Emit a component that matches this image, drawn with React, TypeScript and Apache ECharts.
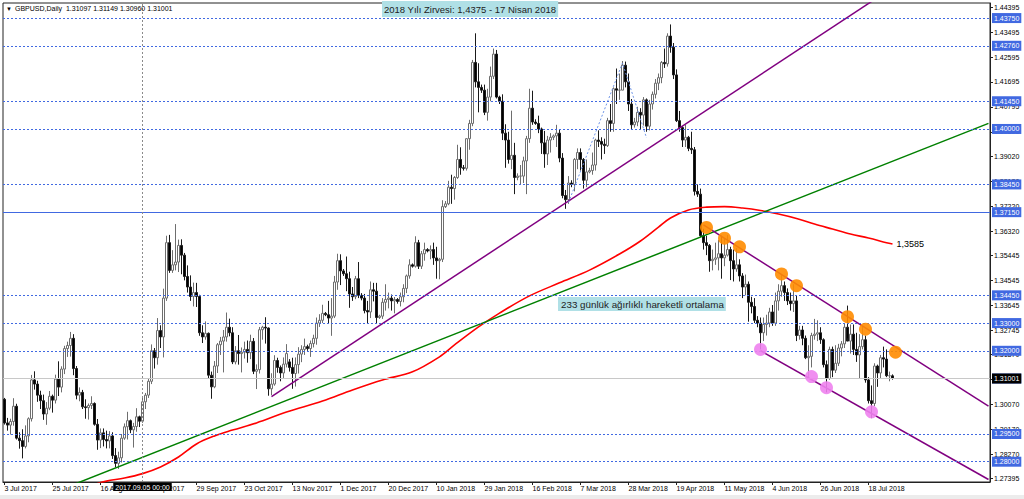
import React, { useEffect, useRef } from 'react';
import * as echarts from 'echarts';

// ---- Daily GBPUSD candles, index 0 = 3 Jul 2017 ----
const OPEN = [
  1.3025,1.2940,1.2932,1.2945,1.3000,1.2885,1.2876,1.2855,1.2893,1.2955,
  1.3095,1.3080,1.3040,1.3020,1.2972,1.2993,1.3036,1.3022,1.3098,1.3069,
  1.3134,1.3208,1.3219,1.3245,1.3136,1.3040,1.3050,1.2998,1.2995,1.3003,
  1.3010,1.2935,1.2878,1.2904,1.2880,1.2875,1.2893,1.2822,1.2794,1.2814,
  1.2885,1.2926,1.2948,1.2915,1.2927,1.2962,1.2946,1.3016,1.3040,1.3090,
  1.3200,1.3175,1.3273,1.3250,1.3390,1.3590,1.3490,1.3510,1.3520,1.3580,
  1.3545,1.3468,1.3430,1.3396,1.3410,1.3396,1.3265,1.3250,1.3263,1.3112,
  1.3070,1.3145,1.3222,1.3235,1.3250,1.3285,1.3265,1.3160,1.3200,1.3190,
  1.3195,1.3205,1.3193,1.3234,1.3126,1.3132,1.3276,1.3285,1.3282,1.3063,
  1.3080,1.3165,1.3140,1.3120,1.3152,1.3160,1.3140,1.3118,1.3150,1.3188,
  1.3205,1.3215,1.3208,1.3226,1.3245,1.3300,1.3310,1.3335,1.3330,1.3318,
  1.3325,1.3448,1.3525,1.3488,1.3478,1.3460,1.3405,1.3395,1.3460,1.3400,
  1.3390,1.3345,1.3340,1.3420,1.3415,1.3320,1.3325,1.3375,1.3385,1.3390,
  1.3380,1.3385,1.3378,1.3395,1.3425,1.3470,1.3510,1.3505,1.3590,1.3505,
  1.3550,1.3565,1.3560,1.3565,1.3535,1.3525,1.3530,1.3720,1.3730,1.3790,
  1.3785,1.3825,1.3890,1.3860,1.3858,1.3965,1.4020,1.4240,1.4170,1.4150,
  1.4140,1.4060,1.4115,1.4190,1.4270,1.4115,1.4100,1.3985,1.3960,1.3890,
  1.3905,1.3825,1.3830,1.3830,1.3885,1.3965,1.4075,1.4025,1.4020,1.4000,
  1.3950,1.3910,1.3960,1.3970,1.3975,1.3985,1.3895,1.3760,1.3745,1.3805,
  1.3800,1.3890,1.3915,1.3890,1.3815,1.3845,1.3850,1.3870,1.3960,1.3955,
  1.3945,1.3940,1.4030,1.4020,1.4145,1.4140,1.4140,1.4230,1.4170,1.4090,
  1.4015,1.4025,1.4060,1.4050,1.4105,1.4010,1.4090,1.4125,1.4165,1.4185,
  1.4240,1.4235,1.4335,1.4295,1.4195,1.4030,1.4005,1.3960,1.3970,1.3930,
  1.3925,1.3775,1.3765,1.3615,1.3590,1.3580,1.3525,1.3530,1.3535,1.3550,
  1.3535,1.3545,1.3565,1.3525,1.3495,1.3510,1.3470,1.3430,1.3440,1.3375,
  1.3360,1.3310,1.3300,1.3265,1.3295,1.3300,1.3340,1.3300,1.3380,1.3415,
  1.3435,1.3410,1.3380,1.3370,1.3380,1.3255,1.3275,1.3245,1.3175,1.3180,
  1.3255,1.3260,1.3265,1.3240,1.3150,1.3100,1.3205,1.3130,1.3155,1.3210,
  1.3225,1.3285,1.3235,1.3260,1.3205,1.3185,1.3215,1.3240,1.3095,1.3020,
  1.3010,1.3145,1.3120,1.3175,1.3170,1.3110,1.31097,
];
const HIGH = [
  1.3030,1.2958,1.2955,1.3029,1.3009,1.2906,1.2917,1.2931,1.2960,1.3113,
  1.3126,1.3092,1.3056,1.3042,1.3015,1.3055,1.3042,1.3114,1.3162,1.3144,
  1.3218,1.3233,1.3268,1.3260,1.3145,1.3068,1.3059,1.3025,1.3010,1.3036,
  1.3014,1.2954,1.2920,1.2920,1.2912,1.2910,1.2906,1.2849,1.2836,1.2900,
  1.2938,1.2980,1.2952,1.2940,1.2993,1.2966,1.3031,1.3048,1.3100,1.3223,
  1.3210,1.3318,1.3292,1.3424,1.3615,1.3618,1.3563,1.3657,1.3601,1.3602,
  1.3553,1.3508,1.3472,1.3446,1.3445,1.3402,1.3292,1.3306,1.3266,1.3125,
  1.3163,1.3228,1.3250,1.3275,1.3338,1.3316,1.3285,1.3217,1.3257,1.3212,
  1.3233,1.3237,1.3258,1.3246,1.3151,1.3286,1.3290,1.3321,1.3284,1.3119,
  1.3184,1.3175,1.3147,1.3176,1.3224,1.3170,1.3175,1.3176,1.3213,1.3220,
  1.3244,1.3222,1.3237,1.3258,1.3320,1.3332,1.3366,1.3340,1.3380,1.3390,
  1.3470,1.3550,1.3548,1.3495,1.3540,1.3485,1.3430,1.3470,1.3520,1.3408,
  1.3405,1.3380,1.3450,1.3445,1.3445,1.3330,1.3390,1.3440,1.3410,1.3403,
  1.3394,1.3390,1.3410,1.3440,1.3475,1.3530,1.3515,1.3613,1.3600,1.3560,
  1.3590,1.3570,1.3580,1.3590,1.3575,1.3535,1.3743,1.3740,1.3813,1.3835,
  1.3830,1.3943,1.3934,1.3870,1.3966,1.4033,1.4249,1.4345,1.4237,1.4160,
  1.4160,1.4145,1.4225,1.4290,1.4285,1.4120,1.4125,1.4017,1.3990,1.4066,
  1.3950,1.3840,1.3870,1.3900,1.3975,1.4145,1.4138,1.4035,1.4048,1.4005,
  1.3993,1.3975,1.3985,1.3980,1.4015,1.3997,1.3913,1.3780,1.3830,1.3815,
  1.3895,1.3930,1.3930,1.3895,1.3890,1.3860,1.3915,1.3965,1.3995,1.3970,
  1.3965,1.4040,1.4090,1.4150,1.4218,1.4200,1.4245,1.4243,1.4200,1.4108,
  1.4040,1.4080,1.4075,1.4115,1.4110,1.4105,1.4135,1.4180,1.4200,1.4245,
  1.4290,1.4345,1.4377,1.4310,1.4215,1.4065,1.4010,1.4015,1.3975,1.3990,
  1.3935,1.3800,1.3785,1.3640,1.3615,1.3585,1.3565,1.3590,1.3600,1.3615,
  1.3605,1.3617,1.3575,1.3565,1.3570,1.3530,1.3480,1.3475,1.3450,1.3395,
  1.3390,1.3325,1.3320,1.3320,1.3330,1.3355,1.3365,1.3410,1.3440,1.3473,
  1.3450,1.3425,1.3410,1.3440,1.3400,1.3290,1.3290,1.3255,1.3220,1.3265,
  1.3315,1.3310,1.3285,1.3245,1.3165,1.3215,1.3215,1.3220,1.3225,1.3235,
  1.3300,1.3363,1.3295,1.3295,1.3265,1.3260,1.3290,1.3255,1.3105,1.3075,
  1.3155,1.3150,1.3185,1.3215,1.3205,1.3125,1.31149,
];
const LOW = [
  1.2934,1.2912,1.2898,1.2930,1.2880,1.2847,1.2812,1.2848,1.2870,1.2945,
  1.3060,1.3016,1.2990,1.2951,1.2933,1.2986,1.2977,1.3010,1.3037,1.3050,
  1.3116,1.3178,1.3179,1.3112,1.3025,1.3018,1.2990,1.2955,1.2952,1.2990,
  1.2930,1.2843,1.2849,1.2855,1.2848,1.2848,1.2810,1.2780,1.2774,1.2797,
  1.2879,1.2880,1.2903,1.2851,1.2908,1.2925,1.2940,1.2990,1.3030,1.3080,
  1.3136,1.3150,1.3210,1.3176,1.3380,1.3481,1.3481,1.3490,1.3484,1.3476,
  1.3454,1.3410,1.3380,1.3360,1.3358,1.3254,1.3228,1.3240,1.3100,1.3027,
  1.3065,1.3120,1.3185,1.3122,1.3233,1.3252,1.3152,1.3151,1.3150,1.3122,
  1.3172,1.3157,1.3170,1.3116,1.3062,1.3118,1.3240,1.3226,1.3038,1.3040,
  1.3074,1.3121,1.3090,1.3102,1.3140,1.3125,1.3063,1.3071,1.3118,1.3159,
  1.3185,1.3200,1.3178,1.3212,1.3222,1.3286,1.3300,1.3325,1.3300,1.3254,
  1.3318,1.3420,1.3437,1.3470,1.3415,1.3355,1.3380,1.3386,1.3390,1.3382,
  1.3335,1.3300,1.3318,1.3378,1.3300,1.3315,1.3315,1.3345,1.3353,1.3345,
  1.3335,1.3370,1.3360,1.3375,1.3408,1.3460,1.3500,1.3500,1.3495,1.3495,
  1.3525,1.3555,1.3530,1.3510,1.3460,1.3458,1.3520,1.3715,1.3725,1.3730,
  1.3745,1.3820,1.3835,1.3850,1.3850,1.3925,1.4010,1.4150,1.4060,1.4130,
  1.4050,1.4030,1.4100,1.4180,1.4110,1.4090,1.3960,1.3860,1.3875,1.3855,
  1.3765,1.3815,1.3800,1.3805,1.3765,1.3950,1.4015,1.4015,1.3985,1.3910,
  1.3860,1.3870,1.3915,1.3960,1.3935,1.3880,1.3750,1.3712,1.3730,1.3790,
  1.3775,1.3855,1.3850,1.3785,1.3790,1.3840,1.3835,1.3850,1.3935,1.3890,
  1.3910,1.3935,1.3990,1.3990,1.4090,1.4105,1.4140,1.4150,1.4065,1.4000,
  1.4005,1.4010,1.4000,1.4012,1.3990,1.3995,1.4070,1.4110,1.4140,1.4165,
  1.4220,1.4225,1.4275,1.4180,1.4025,1.3990,1.3935,1.3935,1.3920,1.3910,
  1.3760,1.3755,1.3610,1.3565,1.3545,1.3485,1.3490,1.3510,1.3490,1.3460,
  1.3505,1.3540,1.3455,1.3450,1.3485,1.3450,1.3390,1.3400,1.3305,1.3335,
  1.3300,1.3285,1.3205,1.3235,1.3255,1.3285,1.3290,1.3290,1.3345,1.3395,
  1.3380,1.3365,1.3345,1.3340,1.3235,1.3240,1.3220,1.3170,1.3100,1.3140,
  1.3240,1.3235,1.3225,1.3140,1.3050,1.3095,1.3105,1.3120,1.3145,1.3180,
  1.3210,1.3245,1.3190,1.3185,1.3160,1.3100,1.3205,1.3085,1.3010,1.2957,
  1.3000,1.3070,1.3100,1.3140,1.3105,1.3090,1.30960,
];
const CLOSE = [
  1.2940,1.2932,1.2945,1.3000,1.2885,1.2876,1.2855,1.2893,1.2955,1.3095,
  1.3080,1.3040,1.3020,1.2972,1.2993,1.3036,1.3022,1.3098,1.3069,1.3134,
  1.3208,1.3219,1.3245,1.3136,1.3040,1.3050,1.2998,1.2995,1.3003,1.3010,
  1.2935,1.2878,1.2904,1.2880,1.2875,1.2893,1.2822,1.2794,1.2814,1.2885,
  1.2926,1.2948,1.2915,1.2927,1.2962,1.2946,1.3016,1.3040,1.3090,1.3200,
  1.3175,1.3273,1.3250,1.3390,1.3590,1.3490,1.3510,1.3520,1.3580,1.3545,
  1.3468,1.3430,1.3396,1.3410,1.3396,1.3265,1.3250,1.3263,1.3112,1.3070,
  1.3145,1.3222,1.3235,1.3250,1.3285,1.3265,1.3160,1.3200,1.3190,1.3195,
  1.3205,1.3193,1.3234,1.3126,1.3132,1.3276,1.3285,1.3282,1.3063,1.3080,
  1.3165,1.3140,1.3120,1.3152,1.3190,1.3140,1.3118,1.3150,1.3188,1.3205,
  1.3215,1.3208,1.3226,1.3245,1.3300,1.3310,1.3335,1.3330,1.3318,1.3325,
  1.3448,1.3525,1.3488,1.3478,1.3460,1.3405,1.3395,1.3460,1.3400,1.3390,
  1.3345,1.3340,1.3420,1.3415,1.3320,1.3325,1.3375,1.3385,1.3390,1.3380,
  1.3385,1.3378,1.3395,1.3425,1.3470,1.3510,1.3505,1.3590,1.3505,1.3550,
  1.3565,1.3560,1.3565,1.3535,1.3525,1.3530,1.3720,1.3730,1.3790,1.3785,
  1.3825,1.3890,1.3860,1.3858,1.3965,1.4020,1.4240,1.4170,1.4150,1.4140,
  1.4060,1.4115,1.4190,1.4270,1.4115,1.4100,1.3985,1.3960,1.3890,1.3905,
  1.3825,1.3830,1.3830,1.3885,1.3965,1.4075,1.4025,1.4020,1.4000,1.3950,
  1.3910,1.3960,1.3970,1.3975,1.3985,1.3895,1.3760,1.3745,1.3805,1.3800,
  1.3890,1.3915,1.3890,1.3815,1.3845,1.3850,1.3870,1.3960,1.3955,1.3945,
  1.3940,1.4030,1.4020,1.4145,1.4140,1.4140,1.4230,1.4170,1.4090,1.4015,
  1.4025,1.4060,1.4050,1.4105,1.4010,1.4090,1.4125,1.4165,1.4185,1.4240,
  1.4235,1.4335,1.4295,1.4195,1.4030,1.4005,1.3960,1.3970,1.3930,1.3925,
  1.3775,1.3765,1.3615,1.3590,1.3580,1.3525,1.3530,1.3535,1.3550,1.3535,
  1.3545,1.3565,1.3525,1.3495,1.3510,1.3470,1.3430,1.3440,1.3375,1.3360,
  1.3310,1.3300,1.3265,1.3295,1.3300,1.3340,1.3300,1.3380,1.3415,1.3435,
  1.3410,1.3380,1.3370,1.3380,1.3255,1.3275,1.3245,1.3175,1.3180,1.3255,
  1.3260,1.3265,1.3240,1.3150,1.3100,1.3205,1.3130,1.3155,1.3210,1.3225,
  1.3285,1.3235,1.3260,1.3205,1.3185,1.3215,1.3240,1.3095,1.3020,1.3010,
  1.3145,1.3120,1.3175,1.3170,1.3110,1.3110,1.31001,
];

// 233-day weighted moving average: [bar index, price]
const WMA233: [number, number][] = [
  [30,1.2718],[34,1.2730],[40,1.2741],[46,1.2757],[52,1.2781],[58,1.2817],[64,1.2864],
  [70,1.2893],[76,1.2914],[84,1.2940],[94,1.2979],[106,1.3019],[116,1.3059],[126,1.3095],
  [136,1.3124],[145,1.3178],[150,1.3221],[158,1.3286],[165,1.3336],[175,1.3398],[185,1.3445],
  [195,1.3491],[205,1.3549],[212,1.3596],[218,1.3646],[222,1.3679],[228,1.3708],[234,1.3718],
  [240,1.3720],[246,1.3715],[252,1.3706],[258,1.3693],[264,1.3677],[270,1.3657],[276,1.3639],
  [282,1.3621],[288,1.3607],[294,1.3590],[296,1.3585],
];
const WMA_LABEL = '1,3585';

// Drawn trend lines: [bar index, price]
const GREEN_TREND: [number, number][] = [[20, 1.27048], [328, 1.40201]];
const PURPLE_TREND: [number, number][] = [[89, 1.30344], [300, 1.4538]];
const CHANNEL_TOP: [number, number][] = [[233, 1.36537], [328, 1.30004]];
const CHANNEL_BOTTOM: [number, number][] = [[252, 1.32003], [328, 1.27358]];
const SWING_DOTTED: [number, number][] = [[188, 1.3735], [206, 1.4238], [214, 1.3968]];
const ORANGE_TOUCHES: [number, number][] = [
  [234,1.3645],[240,1.3606],[245,1.3575],[259,1.3477],[264,1.3435],[281,1.3323],[287,1.3278],[297,1.3195],
];
const PINK_TOUCHES: [number, number][] = [[252,1.3205],[269,1.3107],[274,1.3067],[289,1.2980]];

// Horizontal levels
const LEVELS = [1.4375, 1.4276, 1.4145, 1.4, 1.3845, 1.3715, 1.3445, 1.33, 1.32, 1.3065, 1.295, 1.28];
const SOLID_LEVEL = 1.3715;
const CURRENT_PRICE = 1.31001;
const CROSSHAIR_DATE = '2017-09-05';
const CROSSHAIR_LABEL = '2017.09.05 00:00';

// Axis tick labels
const Y_TICKS = [1.44395,1.43495,1.42595,1.41695,1.40795,1.39895,1.3902,1.3812,1.3722,1.3632,
  1.35445,1.34545,1.33645,1.32745,1.3187,1.3097,1.3007,1.2917,1.2827,1.27395];
const X_TICK_LABELS = ['3 Jul 2017','25 Jul 2017','16 Aug 2017','7 Sep 2017','29 Sep 2017','23 Oct 2017',
  '13 Nov 2017','1 Dec 2017','20 Dec 2017','10 Jan 2018','29 Jan 2018','16 Feb 2018','7 Mar 2018',
  '28 Mar 2018','19 Apr 2018','11 May 2018','4 Jun 2018','26 Jun 2018','18 Jul 2018'];
const LABEL_EVERY = 16;
const TOTAL_SLOTS = 329;
const Y_MIN = 1.27268;
const Y_MAX = 1.44543;

const HEADER = 'GBPUSD,Daily  1.31097 1.31149 1.30960 1.31001';
const NOTE_TOP = '2018 Yılı Zirvesi: 1,4375 - 17 Nisan 2018';
const NOTE_MA = '233 günlük ağırlıklı hareketli ortalama';

// Broker trading calendar: weekdays, Sunday bars between mid-Nov and mid-Mar, no bar on 25 Dec / 1 Jan
function tradingDays(count: number): string[] {
  const out: string[] = [];
  const d = new Date(Date.UTC(2017, 6, 3));
  const sunFrom = Date.UTC(2017, 10, 12);
  const sunTo = Date.UTC(2018, 2, 11);
  const closed = ['2017-12-25', '2018-01-01'];
  while (out.length < count) {
    const wd = d.getUTCDay();
    const t = d.getTime();
    const iso = d.toISOString().slice(0, 10);
    const open = (wd >= 1 && wd <= 5) || (wd === 0 && t >= sunFrom && t <= sunTo);
    if (open && !closed.includes(iso)) out.push(iso);
    d.setUTCDate(d.getUTCDate() + 1);
  }
  return out;
}

const FONT = "'Liberation Sans', Arial, sans-serif";
const BLUE = '#4169E1';

export default function App() {
  const ref = useRef<HTMLDivElement>(null);
  useEffect(() => {
    const el = ref.current;
    if (!el) return;
    const chart = echarts.init(el, null, { renderer: 'svg' });
    const cats = tradingDays(TOTAL_SLOTS);
    const candles = OPEN.map((o, i) => [o, CLOSE[i], LOW[i], HIGH[i]]);
    const labelShown = (i: number) => i % LABEL_EVERY === 0 && i / LABEL_EVERY < X_TICK_LABELS.length;

    const boxLabel = (text: string, bg: string) => ({
      show: true, position: 'end', distance: 2, formatter: text, color: '#fff', backgroundColor: bg,
      padding: [2, 2, 1, 2], fontSize: 7, fontFamily: FONT,
    });

    const markData: any[] = LEVELS.map((v) => ({
      yAxis: v,
      lineStyle: { color: BLUE, width: 1, type: v === SOLID_LEVEL ? 'solid' : [2, 2] },
      label: boxLabel(v.toFixed(5), BLUE),
    }));
    markData.push({
      yAxis: CURRENT_PRICE,
      lineStyle: { color: '#c8c8c8', width: 1, type: 'solid' },
      label: boxLabel(CURRENT_PRICE.toFixed(5), '#000'),
    });
    markData.push({
      xAxis: CROSSHAIR_DATE,
      lineStyle: { color: '#8a8a8a', width: 1, type: [2, 2] },
      label: {
        show: true, position: 'start', distance: 1, formatter: CROSSHAIR_LABEL, color: '#fff',
        backgroundColor: '#000', padding: [1, 2, 0, 2], fontSize: 7, fontFamily: FONT,
      },
    });

    const trend = (data: [number, number][], color: string, width = 1.5, type: any = 'solid', z = 3) => ({
      type: 'line', data, symbol: 'none', silent: true, z,
      lineStyle: { color, width, type }, clip: true,
    });

    const option: any = {
      animation: false,
      backgroundColor: '#ffffff',
      grid: { left: 3, right: 34, top: 3, bottom: 17, show: true, borderColor: '#222', borderWidth: 1, backgroundColor: '#fff' },
      xAxis: {
        type: 'category', data: cats, boundaryGap: true,
        axisLine: { show: true, lineStyle: { color: '#222' } },
        axisTick: { show: true, alignWithLabel: true, length: 3, interval: (i: number) => labelShown(i), lineStyle: { color: '#222' } },
        axisLabel: {
          interval: (i: number) => labelShown(i),
          formatter: (_v: string, i: number) => X_TICK_LABELS[i / LABEL_EVERY] ?? '',
          align: 'left', margin: 3, fontSize: 7, color: '#000', fontFamily: FONT,
        },
        splitLine: { show: false },
      },
      yAxis: {
        type: 'value', position: 'right', min: Y_MIN, max: Y_MAX, scale: true,
        axisLine: { show: true, lineStyle: { color: '#222' } },
        axisTick: { show: true, length: 3, customValues: Y_TICKS, lineStyle: { color: '#222' } },
        axisLabel: {
          customValues: Y_TICKS, formatter: (v: number) => v.toFixed(5),
          fontSize: 7, color: '#000', margin: 4, fontFamily: FONT,
        },
        splitLine: { show: false },
      },
      series: [
        {
          type: 'candlestick', name: 'GBPUSD', data: candles, barWidth: 2, z: 2,
          itemStyle: { color: '#ffffff', color0: '#000000', borderColor: '#6e6e6e', borderColor0: '#1a1a1a', borderWidth: 1 },
          markLine: { silent: true, symbol: ['none', 'none'], animation: false, data: markData },
        },
        {
          type: 'line', data: WMA233, smooth: 0.35, symbol: 'none', showSymbol: false, silent: true, z: 3, clip: true,
          lineStyle: { color: '#ff0000', width: 1.6 },
          endLabel: { show: true, formatter: WMA_LABEL, color: '#000', fontSize: 9, fontFamily: FONT, distance: 4 },
        },
        trend(GREEN_TREND, '#008000'),
        trend(PURPLE_TREND, '#800080'),
        trend(CHANNEL_TOP, '#800080'),
        trend(CHANNEL_BOTTOM, '#800080'),
        trend(SWING_DOTTED, '#6f95e8', 1, [2, 2], 3),
        {
          type: 'scatter', data: ORANGE_TOUCHES, symbol: 'circle', symbolSize: 13, z: 5, silent: true,
          itemStyle: { color: '#ff8c00', opacity: 0.9 },
        },
        {
          type: 'scatter', data: PINK_TOUCHES, symbol: 'circle', symbolSize: 13, z: 5, silent: true,
          itemStyle: { color: '#ee82ee', opacity: 0.9 },
        },
      ],
      graphic: [
        { type: 'rect', left: 0, top: 495, shape: { width: 1024, height: 4 }, style: { fill: '#ececec' }, silent: true },
        { type: 'text', left: 6, top: 6, style: { text: '▼', fontSize: 6, fill: '#000', fontFamily: FONT }, z: 10 },
        { type: 'text', left: 15, top: 5, style: { text: HEADER, fontSize: 7, fill: '#000', fontFamily: FONT }, z: 10 },
        {
          type: 'text', left: 382, top: 1, z: 10,
          style: { text: NOTE_TOP, fontSize: 9.5, fill: '#222', fontFamily: FONT, backgroundColor: '#b0e0e6', padding: [3, 2, 3, 2] },
        },
        {
          type: 'text', left: 558, top: 297, z: 10,
          style: { text: NOTE_MA, fontSize: 9.8, fill: '#222', fontFamily: FONT, backgroundColor: '#b0e0e6', padding: [2, 2, 2, 3] },
        },
      ],
    };
    chart.setOption(option);
    return () => chart.dispose();
  }, []);
  return <div ref={ref} style={{ position: 'fixed', left: 0, top: 0, width: 1024, height: 499, background: '#fff' }} />;
}
